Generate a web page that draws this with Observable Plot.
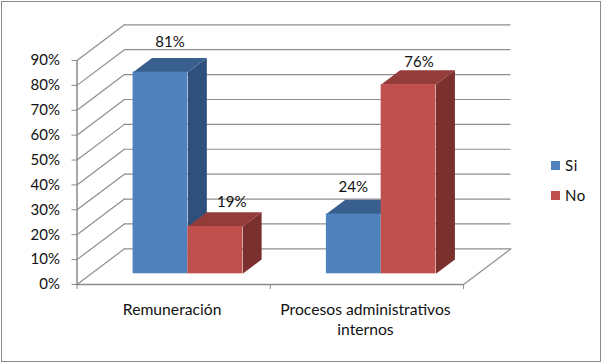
<!DOCTYPE html>
<html>
<head>
<meta charset="utf-8">
<script src="https://cdn.jsdelivr.net/npm/d3@7"></script>
<script src="https://cdn.jsdelivr.net/npm/@observablehq/plot@0.6"></script>
<style>
html,body{margin:0;padding:0;background:#fff;width:602px;height:363px;overflow:hidden}
#chart{position:absolute;left:0;top:0;width:602px;height:363px}
#chart svg{display:block;background:transparent}
#border{position:absolute;left:1px;top:1px;width:598px;height:359px;border:1.5px solid #8a8a8a;pointer-events:none}
#legend{position:absolute;left:551px;top:155px;font:15px Lato,sans-serif;color:#111;letter-spacing:.6px}
#legend div{display:flex;align-items:center;height:20px;margin-bottom:10px}
#legend i{display:block;width:9px;height:9px;margin-right:5px}
</style>
</head>
<body>
<div id="chart"></div>
<div id="border"></div>
<div id="legend"></div>
<script>
const categories = ["Remuneración", "Procesos administrativos\ninternos"];
const si = [81, 24];
const no = [19, 76];
const labels = ["Si", "No"];
const yTicks = [0, 10, 20, 30, 40, 50, 60, 70, 80, 90];
const colors = {
  Si: {front: "#4f81bd", top: "#395f8e", side: "#30507c"},
  No: {front: "#c0504d", top: "#943c3a", side: "#7b302e"}
};

// Oblique-projection parameters, in scale units
const depthX = 47.4 / 193.25;   // category units
const depthY = 14.33;           // percent units
const barW = 0.2835;
const gap = (1 - 2 * barW) / 2;
const near = 0.3, far = 0.7;    // floor depth fraction occupied by the bars

const P = (x, y, d) => ({x: x + d * depthX, y: y + d * depthY});

const bars = categories.flatMap((c, i) => [
  {s: "Si", i, j: 0, v: si[i]},
  {s: "No", i, j: 1, v: no[i]}
]);

function faces(b) {
  const x0 = b.i + gap + b.j * barW, x1 = x0 + barW;
  const tag = b.s + b.i;
  const side = [P(x1, 0, near), P(x1, 0, far), P(x1, b.v, far), P(x1, b.v, near)];
  const top = [P(x0, b.v, near), P(x1, b.v, near), P(x1, b.v, far), P(x0, b.v, far)];
  const front = P(x0, 0, near), frontEnd = P(x1, b.v, near);
  return {tag, side, top, front, frontEnd, b};
}

const grid = {stroke: "#8e8e8e", strokeWidth: 1.2};
const wallLines = yTicks.flatMap(t => [
  {t, ...P(0, t, 0)}, {t, ...P(0, t, 1)}
]);
const floorEdge = [P(2, 0, 0), P(2, 0, 1)];

const marks = [
  // back wall
  Plot.ruleY(yTicks.map(t => t + depthY), {x1: depthX, x2: 2 + depthX, ...grid}),
  // side wall
  Plot.line(wallLines, {x: "x", y: "y", z: "t", ...grid}),
  Plot.line(floorEdge, {x: "x", y: "y", ...grid}),
  // axes
  Plot.ruleX([0], {y1: 0, y2: 90, stroke: "#8a8a8a", strokeWidth: 1.5}),
  Plot.ruleY([0], {x1: 0, x2: 2, stroke: "#8a8a8a", strokeWidth: 1.5}),
  Plot.axisY({ticks: yTicks, tickFormat: d => d + "%", tickSize: 5, tickPadding: 12, label: null,
    stroke: "#8a8a8a", color: "#111", fontSize: 15, tickStrokeWidth: 1}),
  Plot.axisX({ticks: [0, 1, 2], tickSize: 5, tickFormat: () => "", label: null, stroke: "#8a8a8a"}),
  Plot.axisX({ticks: categories.map((c, i) => i + .5), tickSize: 0, tickPadding: 16, label: null, dx: -1.5,
    tickFormat: t => categories[Math.floor(t)], fontSize: 15.7, lineHeight: 1.28, color: "#111", lineAnchor: "top"})
];

for (const b of bars) {
  const f = faces(b);
  const c = colors[b.s];
  marks.push(
    Plot.line(f.side, {x: "x", y: "y", fill: c.side, stroke: "none"}),
    Plot.line(f.top, {x: "x", y: "y", fill: c.top, stroke: "none"}),
    Plot.rect([f], {x1: d => d.front.x, x2: d => d.frontEnd.x, y1: d => d.front.y, y2: d => d.frontEnd.y, fill: c.front, inset: 0})
  );
}

// Data labels: hand-nudged like the reference's, relative to the bar's rear top edge
const nudges = {Si0: [0, -16], No0: [7, -10], Si1: [-10, -13], No1: [1, -8]};
for (const b of bars) {
  const f = faces(b);
  const [dx, dy] = nudges[f.tag];
  const xc = b.i + gap + (b.j + .5) * barW;
  const anchor = {x: P(xc, 0, .5).x, y: P(0, b.v, far).y};
  marks.push(Plot.text([anchor], {x: "x", y: "y", text: () => b.v + "%", dx, dy,
    fontSize: 15, fill: "#111"}));
}

const chart = Plot.plot({
  width: 602, height: 363,
  marginLeft: 76.5, marginRight: 91.5, marginTop: 24.3, marginBottom: 79,
  x: {type: "linear", domain: [0, 2 + depthX]},
  y: {type: "linear", domain: [0, 90 + depthY]},
  style: {fontFamily: "Lato, sans-serif", fontSize: "15px", background: "transparent", overflow: "visible"},
  marks
});
document.getElementById("chart").append(chart);

const lg = document.getElementById("legend");
labels.forEach(l => {
  const row = document.createElement("div");
  const sw = document.createElement("i");
  sw.style.background = colors[l].front;
  row.append(sw, l);
  lg.append(row);
});
</script>
</body>
</html>
